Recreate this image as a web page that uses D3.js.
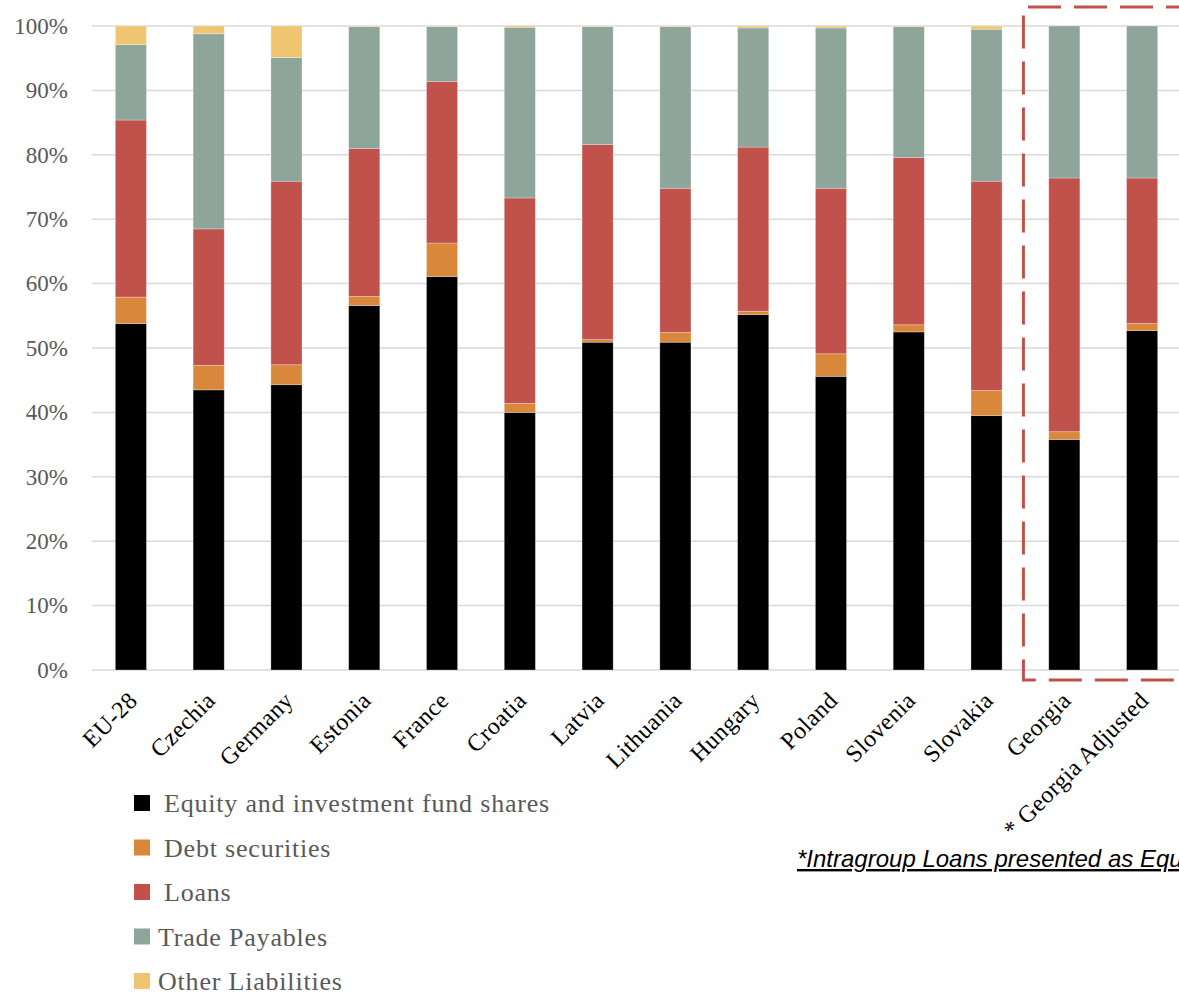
<!DOCTYPE html>
<html>
<head>
<meta charset="utf-8">
<script src="https://cdn.jsdelivr.net/npm/d3@7"></script>
<style>
  body { margin: 0; background: #fff; }
  svg { display: block; }
</style>
</head>
<body>
<svg id="chart" width="1179" height="994"></svg>
<script>
// categories along x
let countries = ["EU-28", "Czechia", "Germany", "Estonia", "France", "Croatia", "Latvia",
    "Lithuania", "Hungary", "Poland", "Slovenia", "Slovakia", "Georgia", "* Georgia Adjusted"];

// shares in % per liability type
let equity      = [53.8, 43.5, 44.3, 56.6, 61.1, 40.0, 50.9, 50.9, 55.2, 45.6, 52.5, 39.5, 35.8, 52.7];
let debtSec     = [ 4.1,  3.8,  3.1,  1.4,  5.2,  1.4,  0.4,  1.5,  0.5,  3.5,  1.1,  3.9,  1.2,  1.1];
let loans       = [27.5, 21.2, 28.5, 23.0, 25.1, 31.9, 30.3, 22.4, 25.5, 25.7, 26.0, 32.5, 39.4, 22.6];
let tradePay    = [11.7, 30.3, 19.2, 18.9,  8.5, 26.5, 18.3, 25.1, 18.5, 24.9, 20.3, 23.6, 23.6, 23.6];
let otherLiab   = [ 2.9,  1.2,  4.9,  0.1,  0.1,  0.2,  0.1,  0.1,  0.3,  0.3,  0.1,  0.5,  0.0,  0.0];

let seriesNames = ["Equity and investment fund shares", "Debt securities", "Loans", "Trade Payables", "Other Liabilities"];
let seriesColors = ["#000000", "#d8873b", "#c0524b", "#8da59b", "#f0c572"];
let yTicks = [0, 10, 20, 30, 40, 50, 60, 70, 80, 90, 100];

let rows = countries.map((c, i) => ({
    country: c,
    "Equity and investment fund shares": equity[i],
    "Debt securities": debtSec[i],
    "Loans": loans[i],
    "Trade Payables": tradePay[i],
    "Other Liabilities": otherLiab[i]
}));

let serif = "'Liberation Serif', 'DejaVu Serif', serif";
let margin = {top: 26, left: 92, right: -2, bottom: 324};
let svg = d3.select("#chart");
let W = +svg.attr("width"), H = +svg.attr("height");

let x = d3.scaleBand()
    .domain(countries)
    .range([margin.left, W - margin.right])
    .paddingInner(0.6)
    .paddingOuter(0.3);

let y = d3.scaleLinear()
    .domain([0, 100])
    .range([H - margin.bottom, margin.top]);

let color = d3.scaleOrdinal().domain(seriesNames).range(seriesColors);

// gridlines
svg.append("g")
    .selectAll("line")
    .data(yTicks)
    .enter().append("line")
    .attr("x1", margin.left)
    .attr("x2", W)
    .attr("y1", d => y(d))
    .attr("y2", d => y(d))
    .attr("stroke", "#d9d9d9")
    .attr("stroke-width", 1.5);

// y axis labels
let yAxis = g => g
    .attr("transform", `translate(${margin.left - 24},0)`)
    .call(d3.axisLeft(y).tickValues(yTicks).tickFormat(d => d + "%").tickSize(0).tickPadding(0))
    .call(g => g.select(".domain").remove())
    .call(g => g.selectAll("text")
        .attr("fill", "#595959")
        .style("font-family", serif)
        .style("font-size", "23px"));
svg.append("g").call(yAxis);

// stacked bars
let stack = d3.stack().keys(seriesNames);
let layers = stack(rows);

svg.append("g")
    .selectAll("g")
    .data(layers)
    .enter().append("g")
    .attr("fill", d => color(d.key))
    .selectAll("rect")
    .data(d => d)
    .enter().append("rect")
    .attr("x", d => x(d.data.country))
    .attr("width", x.bandwidth())
    .attr("y", d => y(d[1]))
    .attr("height", d => Math.max(0, y(d[0]) - y(d[1])))
    .attr("stroke", "#ffffff")
    .attr("stroke-opacity", 0.35)
    .attr("stroke-width", 0.8);

// x axis labels, rotated
let xAxis = g => g
    .attr("transform", `translate(0,${H - margin.bottom})`)
    .call(d3.axisBottom(x).tickSize(0).tickPadding(0))
    .call(g => g.select(".domain").remove())
    .call(g => g.selectAll("text")
        .attr("fill", "#000")
        .style("font-family", serif)
        .style("font-size", "24px")
        .style("letter-spacing", "0.4px")
        .style("text-anchor", "end")
        .attr("dy", "0")
        .attr("transform", "translate(8,32) rotate(-45)"));
svg.append("g").call(xAxis);

// dashed highlight box around Georgia columns
let gx = x("Georgia") - (x.step() - x.bandwidth()) / 2 - 2;
svg.append("path")
    .attr("d", `M${W + 20},${7} L${gx},${7} L${gx},${y(0) + 10} L${W + 20},${y(0) + 10}`)
    .attr("fill", "none")
    .attr("stroke", "#c0524b")
    .attr("stroke-width", 3)
    .attr("stroke-dasharray", "33,13");

// legend
let legend = svg.append("g")
    .selectAll("g")
    .data(seriesNames)
    .enter().append("g")
    .attr("transform", (d, i) => `translate(134,${803 + i * 44.5})`);

legend.append("rect")
    .attr("x", 0)
    .attr("y", -8)
    .attr("width", 16)
    .attr("height", 16)
    .attr("fill", d => color(d));

legend.append("text")
    .attr("x", (d, i) => i < 3 ? 30 : 24)
    .attr("y", 0)
    .attr("dy", "0.35em")
    .attr("fill", "#595959")
    .style("font-family", serif)
    .style("font-size", "26px")
    .style("letter-spacing", "0.8px")
    .text(d => d);

// footnote
svg.append("text")
    .attr("x", 797)
    .attr("y", 867)
    .attr("fill", "#000")
    .style("font-family", "'Liberation Sans', 'Open Sans', sans-serif")
    .style("font-size", "24px")
    .style("font-style", "italic")
    .style("text-decoration", "underline")
    .text("*Intragroup Loans presented as Equity");
</script>
</body>
</html>
